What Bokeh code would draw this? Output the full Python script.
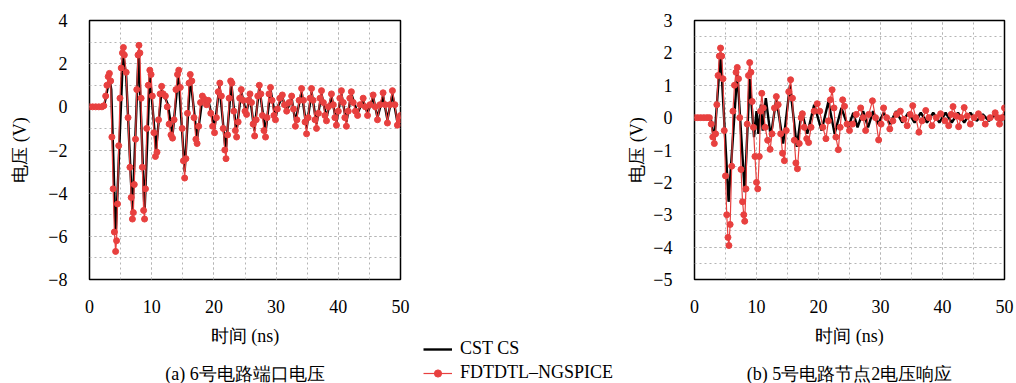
from bokeh.plotting import figure
from bokeh.layouts import row, column
from bokeh.models import Range1d, FixedTicker, CustomJSTickFormatter, Legend, LegendItem
from bokeh.core.properties import value
from bokeh.embed import file_html
from bokeh.resources import INLINE

# ---------------- data ----------------
# (a) port voltage of circuit 6
cst_a_t = [0, 2.3, 2.6, 3.2, 3.5, 4.2, 4.5, 5.4, 5.9, 6.9,
           7.9, 8.85, 9.7, 10.7, 11.6, 12.2, 12.6, 13.35, 14.3, 15.3,
           16.2, 17.3, 18.2, 18.8, 19.1, 20.1, 20.9, 21.9, 22.8, 23.6,
           24.4, 25.2, 25.8, 26.5, 27.3, 28.3, 29.1, 29.9, 30.4, 31.0,
           31.7, 32.5, 33.1, 34.1, 34.9, 35.7, 36.5, 37.3, 38.1, 38.9,
           39.7, 40.5, 41.3, 42.1, 43.1, 44.0, 44.7, 45.6, 46.3, 47.2,
           47.9, 48.7, 49.5, 50.0]
cst_a_v = [0, 0, 0.4, 1.3, 0.8, -5.9, -4.0, 2.5, 1.4, -4.9,
           2.6, -4.9, 1.5, -2.0, 0.8, 0.4, 0.1, -1.3, 1.5, -3.0,
           1.4, -1.5, 0.5, 0.1, 0.3, -1.0, 1.0, -2.1, 1.1, -1.2,
           0.7, -0.3, 0.5, -1.1, 0.9, -1.2, 0.8, -0.5, 0.1, 0.45,
           -0.2, 0.4, -0.7, 0.7, -1.0, 0.7, -0.8, 0.6, -0.5, 0.5,
           -0.7, 0.6, -0.7, 0.6, -0.3, 0.3, -0.3, 0.45, -0.5, 0.5,
           -0.6, 0.6, -0.7, -0.4]

fd_a_t = [0, 0.5, 1.0, 1.5, 2.0, 2.3, 2.6, 2.8, 3.0, 3.2,
          3.4, 3.6, 3.8, 4.0, 4.2, 4.35, 4.5, 4.7, 4.9, 5.1,
          5.3, 5.45, 5.6, 5.9, 6.2, 6.5, 6.7, 6.9, 7.05, 7.2,
          7.4, 7.6, 7.8, 7.95, 8.1, 8.3, 8.5, 8.7, 8.85, 9.0,
          9.2, 9.45, 9.7, 9.9, 10.1, 10.35, 10.6, 10.85, 11.1, 11.35,
          11.6, 11.85, 12.2, 12.5, 12.8, 13.1, 13.35, 13.6, 13.9, 14.15,
          14.35, 14.6, 14.9, 15.1, 15.3, 15.5, 15.75, 16.0, 16.2, 16.45,
          16.8, 17.1, 17.3, 17.55, 17.85, 18.15, 18.5, 18.8, 19.1, 19.5,
          19.8, 20.1, 20.4, 20.7, 20.95, 21.2, 21.5, 21.75, 21.95, 22.2,
          22.45, 22.7, 22.9, 23.2, 23.45, 23.65, 23.9, 24.15, 24.4, 24.7,
          25.0, 25.25, 25.55, 25.8, 26.05, 26.3, 26.55, 26.8, 27.05, 27.3,
          27.55, 27.8, 28.05, 28.3, 28.55, 28.85, 29.1, 29.35, 29.65, 29.9,
          30.2, 30.6, 31.0, 31.35, 31.7, 32.1, 32.5, 32.8, 33.1, 33.35,
          33.7, 34.1, 34.4, 34.65, 34.9, 35.15, 35.45, 35.7, 35.95, 36.25,
          36.5, 36.8, 37.05, 37.3, 37.6, 37.85, 38.1, 38.4, 38.9, 39.2,
          39.45, 39.7, 40.0, 40.25, 40.5, 40.8, 41.05, 41.3, 41.6, 41.85,
          42.1, 42.4, 42.75, 43.1, 43.5, 44.0, 44.35, 44.7, 45.1, 45.6,
          45.95, 46.3, 46.7, 47.2, 47.55, 47.9, 48.3, 48.7, 49.1, 49.5,
          49.8, 50.0]
fd_a_v = [0, 0, 0, 0, 0, 0.05, 0.5, 1.0, 1.4, 1.55,
          1.2, -1.4, -3.8, -5.8, -6.7, -6.2, -4.5, -1.8, 0.4, 1.8,
          2.5, 2.75, 2.4, 1.6, -0.5, -2.8, -4.2, -5.2, -4.9, -3.6,
          -1.5, 0.8, 2.4, 2.85, 2.5, 0.4, -2.8, -4.8, -5.2, -3.8,
          -1.0, 1.0, 1.7, 1.5, 0.5, -1.2, -2.3, -2.1, -0.6, 0.6,
          0.95, 0.6, 0.5, 0, -0.8, -1.3, -1.45, -0.6, 0.8, 1.5,
          1.7, 0.9, -1.0, -2.5, -3.3, -2.4, -0.3, 1.1, 1.5, 1.2,
          -0.5, -1.5, -1.7, -0.9, 0.2, 0.5, 0.35, 0.1, 0.3, -0.3,
          -0.9, -1.2, -0.5, 0.7, 1.1, 0.5, -1.0, -2.0, -2.4, -1.3,
          0.4, 1.2, 1.1, -0.2, -1.1, -1.4, -0.7, 0.4, 0.8, 0.3,
          -0.2, -0.35, 0.3, 0.6, 0.2, -0.8, -1.35, -0.6, 0.5, 1.0,
          0.6, -0.4, -1.1, -1.4, -0.5, 0.6, 0.9, 0.3, -0.4, -0.6,
          -0.1, 0.4, 0.55, 0.1, -0.2, 0.2, 0.5, -0.1, -0.9, -0.6,
          0.3, 0.85, 0.3, -0.7, -1.25, -0.5, 0.4, 0.85, 0.3, -0.6,
          -1.0, -0.3, 0.4, 0.75, 0.2, -0.4, -0.65, 0, 0.6, 0.1,
          -0.5, -0.85, -0.2, 0.4, 0.75, 0.2, -0.5, -0.9, -0.2, 0.4,
          0.7, 0.2, -0.2, -0.4, 0.1, 0.4, 0, -0.4, 0.1, 0.55,
          0, -0.6, 0.1, 0.65, 0.1, -0.75, 0.1, 0.75, 0.1, -0.85,
          -0.6, -0.4]

# (b) node-2 voltage response of circuit 5
cst_b_t = [0, 2.6, 3.2, 4.2, 5.5, 6.9, 8.1, 8.9, 9.6, 10.0,
           10.3, 10.7, 11.0, 11.5, 12.3, 13.2, 14.3, 15.4, 16.5, 17.3,
           18.2, 19.3, 20.5, 21.6, 22.6, 23.7, 24.8, 25.6, 26.3, 27.2,
           28.0, 28.8, 29.6, 30.5, 31.5, 32.5, 33.5, 34.5, 35.5, 36.5,
           37.5, 38.5, 39.5, 40.5, 41.5, 42.5, 43.5, 44.5, 45.5, 46.5,
           47.5, 48.5, 49.5, 50.0]
cst_b_v = [0, 0, -0.7, 2.0, -2.6, 1.4, -2.3, 1.2, -0.6, 0.2,
           -0.5, 0.4, -0.4, 0.6, -0.6, 0.6, -0.8, 1.0, -0.9, 0.2,
           -0.5, 0.4, -0.4, 0.5, -0.5, 0.3, -0.3, 0.15, -0.3, 0.2,
           -0.3, 0.2, -0.2, 0.15, -0.2, 0.2, -0.15, 0.15, -0.15, 0.15,
           -0.15, 0.15, -0.15, 0.15, -0.15, 0.15, -0.15, 0.15, -0.1, 0.1,
           -0.1, 0.1, -0.1, 0.1]

fd_b_t = [0, 0.5, 1.0, 1.5, 2.0, 2.4, 2.7, 2.95, 3.2, 3.4,
          3.6, 3.8, 4.0, 4.2, 4.4, 4.6, 4.8, 5.0, 5.2, 5.4,
          5.55, 5.75, 6.0, 6.2, 6.45, 6.7, 6.9, 7.1, 7.3, 7.5,
          7.75, 7.95, 8.1, 8.3, 8.5, 8.7, 8.9, 9.1, 9.3, 9.5,
          9.75, 10.0, 10.2, 10.45, 10.65, 10.85, 11.1, 11.4, 11.8, 12.2,
          12.5, 12.9, 13.2, 13.5, 13.9, 14.2, 14.5, 14.8, 15.2, 15.5,
          15.8, 16.1, 16.35, 16.6, 16.9, 17.2, 17.4, 17.7, 18.1, 18.4,
          18.8, 19.3, 19.8, 20.2, 20.7, 21.2, 21.6, 21.9, 22.2, 22.5,
          22.8, 23.2, 23.5, 23.9, 24.2, 24.6, 25.0, 25.5, 26.1, 26.8,
          27.2, 27.6, 28.1, 28.7, 29.2, 29.7, 30.1, 30.5, 31.0, 31.5,
          32.0, 32.6, 33.2, 33.8, 34.3, 34.8, 35.2, 35.7, 36.2, 36.7,
          37.3, 37.8, 38.3, 39.0, 39.7, 40.4, 41.0, 41.4, 41.7, 42.2,
          42.6, 43.0, 43.5, 44.0, 44.5, 45.1, 45.8, 46.3, 46.9, 47.7,
          48.5, 48.9, 49.2, 49.6, 50.0]
fd_b_v = [0, 0, 0, 0, 0, 0, -0.2, -0.6, -0.8, -0.5,
          0.4, 1.3, 1.9, 2.15, 1.9, 1.2, -0.4, -1.8, -3.0, -3.7,
          -3.95, -3.3, -1.5, 0.2, 1.0, 1.4, 1.55, 1.2, 0, -1.6,
          -2.6, -3.0, -3.2, -2.2, -0.2, 1.3, 1.7, 1.4, 0.5, -0.3,
          -1.2, -2.0, -2.2, -1.2, 0.2, 0.75, 0.3, -0.3, -0.7, -0.98,
          -0.5, 0.3, 0.65, 0.4, -0.5, -1.1, -1.33, -0.4, 0.8, 1.17,
          0.6, -0.7, -1.4, -1.58, -0.8, 0, 0.12, -0.3, -0.65, -0.77,
          -0.3, 0.2, 0.43, 0.2, -0.3, -0.65, -0.1, 0.55, 0.86, 0.3,
          -0.6, -0.99, -0.3, 0.55, 0.35, -0.2, -0.4, -0.2, 0.1, 0.3,
          0, -0.4, 0.1, 0.52, 0, -0.69, -0.2, 0.3, 0, -0.35,
          -0.1, 0.1, 0.2, -0.05, -0.25, 0.1, 0.37, 0, -0.45, -0.1,
          0.22, 0, -0.25, 0, 0.12, -0.1, -0.25, 0.1, 0.34, 0.05,
          -0.28, 0, 0.31, 0.05, -0.2, 0, 0.12, 0, -0.2, 0,
          0.15, 0, -0.2, 0, 0.3]

x_major = [0, 10, 20, 30, 40, 50]
x_minor = [0, 5, 10, 15, 20, 25, 30, 35, 40, 45, 50]
ya_major = [-8, -6, -4, -2, 0, 2, 4]
ya_minor = [-8, -7, -6, -5, -4, -3, -2, -1, 0, 1, 2, 3, 4]
yb_major = [-5, -4, -3, -2, -1, 0, 1, 2, 3]
yb_minor = [-5, -4.5, -4, -3.5, -3, -2.5, -2, -1.5, -1, -0.5, 0, 0.5, 1, 1.5, 2, 2.5, 3]

label_x = "时间 (ns)"
label_y = "电压 (V)"
captions = ["(a) 6号电路端口电压", "(b) 5号电路节点2电压响应"]
name_cst = "CST CS"
name_fd = "FDTDTL–NGSPICE"

# ---------------- styling ----------------
FONT = "Liberation Serif"
RED = "#e8403f"
FS = "18px"
TOP_H = 318            # plots incl. tick labels
BOT_H = 383 - TOP_H    # strip with x-axis titles, captions and legend
NAN = float("nan")

minus_fmt = CustomJSTickFormatter(code="return tick < 0 ? '\u2212' + Math.abs(tick) : tick.toString();")


def make_fig(width, border_left, border_right, y_lo, y_hi, y_major, y_minor, ylab_standoff):
    p = figure(width=width, height=TOP_H, output_backend="svg", toolbar_location=None,
               x_range=Range1d(0, 50), y_range=Range1d(y_lo, y_hi),
               min_border_left=border_left, min_border_right=border_right,
               min_border_top=20, min_border_bottom=TOP_H - 20 - 259)
    p.background_fill_color = "white"
    p.border_fill_color = "white"
    p.outline_line_color = "black"
    p.outline_line_width = 1.5
    p.xaxis.ticker = FixedTicker(ticks=x_major, minor_ticks=x_minor)
    p.yaxis.ticker = FixedTicker(ticks=y_major, minor_ticks=y_minor)
    for ax in (p.xaxis[0], p.yaxis[0]):
        ax.formatter = minus_fmt
        ax.axis_line_color = None
        ax.major_tick_line_color = None
        ax.minor_tick_line_color = None
        ax.major_label_text_font = FONT
        ax.major_label_text_font_size = FS
        ax.major_label_text_color = "black"
        ax.axis_label_text_font = FONT
        ax.axis_label_text_font_size = FS
        ax.axis_label_text_font_style = "normal"
        ax.axis_label_text_color = "black"
    p.yaxis.axis_label = label_y
    p.xaxis.major_label_standoff = 14
    p.yaxis.major_label_standoff = 16
    p.yaxis.axis_label_standoff = ylab_standoff
    for g in (p.xgrid[0], p.ygrid[0]):
        g.grid_line_color = "#b4b4b4"
        g.grid_line_dash = "2 3"
        g.grid_line_width = 1
        g.minor_grid_line_color = "#b4b4b4"
        g.minor_grid_line_dash = "2 3"
        g.minor_grid_line_width = 1
    return p


pa = make_fig(410, 89, 10, -8, 4, ya_major, ya_minor, 15)
pa.line(cst_a_t, cst_a_v, line_color="black", line_width=2.4)
pa.line(fd_a_t, fd_a_v, line_color=RED, line_width=1.2)
pa.scatter(fd_a_t, fd_a_v, marker="circle", size=6, fill_color=RED, line_color=RED)

pb = make_fig(606, 284, 12, -5, 3, yb_major, yb_minor, 3)
pb.line(cst_b_t, cst_b_v, line_color="black", line_width=2.4)
pb.line(fd_b_t, fd_b_v, line_color=RED, line_width=1.2)
pb.scatter(fd_b_t, fd_b_v, marker="circle", size=6, fill_color=RED, line_color=RED)

# bottom strip (units = pixels of the strip): x-axis titles, captions, shared legend
bot = figure(width=1016, height=BOT_H, output_backend="svg", toolbar_location=None,
             x_range=Range1d(0, 1016), y_range=Range1d(0, BOT_H),
             x_axis_type=None, y_axis_type=None,
             min_border_left=0, min_border_right=0, min_border_top=0, min_border_bottom=0)
bot.outline_line_color = None
bot.background_fill_color = "white"
bot.border_fill_color = "white"
bot.grid.visible = False
bot.text(x=[244.5, 849], y=[BOT_H - 17, BOT_H - 17], text=[label_x, label_x],
         text_font=value(FONT), text_font_size=value(FS), text_color="black",
         text_align="center", text_baseline="middle")
bot.text(x=[244.5, 849], y=[10, 10], text=captions,
         text_font=value(FONT), text_font_size=value(FS), text_color="black",
         text_align="center", text_baseline="middle")

leg_cst = bot.line(x=[NAN], y=[NAN], line_color="black", line_width=2.4)
leg_fd_l = bot.line(x=[NAN], y=[NAN], line_color=RED, line_width=1.2)
leg_fd_m = bot.scatter(x=[NAN], y=[NAN], marker="circle", size=4, fill_color=RED, line_color=RED)

legend = Legend(items=[LegendItem(label=name_cst, renderers=[leg_cst]),
                       LegendItem(label=name_fd, renderers=[leg_fd_l, leg_fd_m])],
                location=(423, 0), orientation="vertical",
                label_text_font=FONT, label_text_font_size=FS, label_text_color="black",
                glyph_width=29, glyph_height=18, label_height=18, label_standoff=8,
                spacing=3, padding=0, margin=0,
                border_line_color=None, background_fill_alpha=0)
bot.add_layout(legend, "center")

layout = column(row(pa, pb), bot)
open("out.html", "w").write(file_html(layout, INLINE))
